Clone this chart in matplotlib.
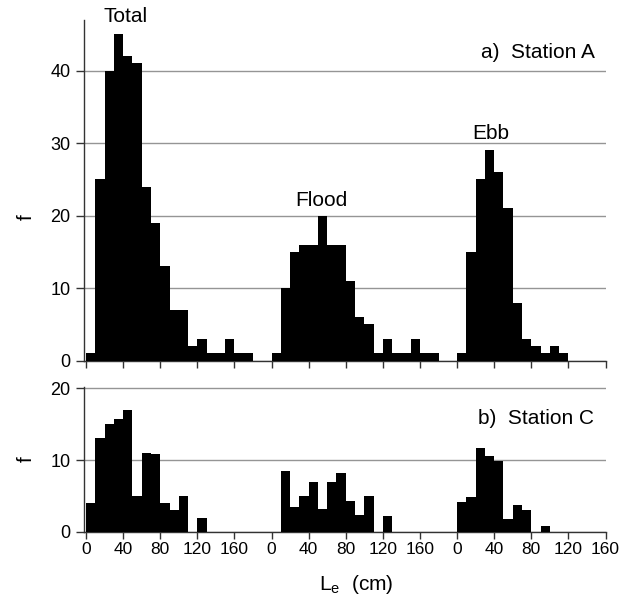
import numpy as np
import matplotlib
matplotlib.use("Agg")
import matplotlib.pyplot as plt

plt.rcParams['font.family'] = ['Liberation Sans', 'DejaVu Sans']

# ---- data (frequency per 10 cm bin, starting at 0 cm) ----
groups = ["Total", "Flood", "Ebb"]
station_a_total = [1, 25, 40, 45, 42, 41, 24, 19, 13, 7, 7, 2, 3, 1, 1, 3, 1, 1]
station_a_flood = [1, 10, 15, 16, 16, 20, 16, 16, 11, 6, 5, 1, 3, 1, 1, 3, 1, 1]
station_a_ebb = [1, 15, 25, 29, 26, 21, 8, 3, 2, 1, 2, 1]

station_c_total = [4, 13, 15, 15.7, 17, 5, 11, 10.9, 4, 3, 5, 0, 2]
station_c_flood = [0, 8.5, 3.5, 5, 7, 3.2, 7, 8.2, 4.3, 2.3, 5, 0, 2.2]
station_c_ebb = [4.2, 4.8, 11.7, 10.6, 9.8, 1.8, 3.8, 3, 0, 0.9]

tick_values = [0, 40, 80, 120, 160]
tick_labels = ["0", "40", "80", "120", "160"]
bin_width = 10
group_offset = 200

fig = plt.figure(figsize=(6.2, 6.0), dpi=100)
ax_a = fig.add_axes([83.5 / 620, 1 - 360.5 / 600, (606 - 83.5) / 620, 340.5 / 600])
ax_c = fig.add_axes([83.5 / 620, 1 - 532 / 600, (606 - 83.5) / 620, 145 / 600])

grid_col = "#959595"
spine_col = "#333333"


def draw(ax, series, ylim, yticks):
    for gi, vals in enumerate(series):
        lefts = np.arange(len(vals)) * bin_width + gi * group_offset
        ax.bar(lefts, vals, width=bin_width, align='edge', color='black',
               edgecolor='none', zorder=3)
    ax.set_xlim(-2.7, 560.5)
    ax.set_ylim(*ylim)
    ax.set_yticks(yticks)
    ax.set_yticklabels([str(v) for v in yticks])
    xt = [v + g * group_offset for g in range(3) for v in tick_values]
    ax.set_xticks(xt)
    ax.set_axisbelow(True)
    ax.yaxis.grid(True, color=grid_col, linewidth=1.0)
    for s in ['top', 'right']:
        ax.spines[s].set_visible(False)
    for s in ['left', 'bottom']:
        ax.spines[s].set_color(spine_col)
        ax.spines[s].set_linewidth(1.0)
    ax.tick_params(axis='both', direction='out', length=5, width=1.0,
                   color=spine_col, labelsize=12.5, pad=2)
    ax.tick_params(axis='y', length=5.5, pad=4, labelsize=13)
    ax.set_ylabel("f", fontsize=15, rotation=90)
    return xt


xt = draw(ax_a, [station_a_total, station_a_flood, station_a_ebb], (0, 47), [0, 10, 20, 30, 40])
ax_a.set_xticklabels([])
draw(ax_c, [station_c_total, station_c_flood, station_c_ebb], (0, 20.15), [0, 10, 20])
ax_c.set_xticklabels(tick_labels * 3)

ax_a.yaxis.set_label_coords(-0.091, 0.42)
ax_c.yaxis.set_label_coords(-0.091, 0.5)

lab_fs = 15
ax_a.text(42.8, 46.7, groups[0], ha='center', va='baseline', fontsize=lab_fs)
ax_a.text(254, 21.3, groups[1], ha='center', va='baseline', fontsize=lab_fs)
ax_a.text(436.6, 30.6, groups[2], ha='center', va='baseline', fontsize=lab_fs)
ax_a.text(548, 41.7, "a)  Station A", ha='right', va='baseline', fontsize=lab_fs)
ax_c.text(548, 15.0, "b)  Station C", ha='right', va='baseline', fontsize=lab_fs)

fig.text(356 / 620, 1 - 590 / 600, r"L$_\mathregular{e}$  (cm)", ha='center',
         va='baseline', fontsize=15)

fig.savefig("out.png", dpi=100, facecolor='white')
